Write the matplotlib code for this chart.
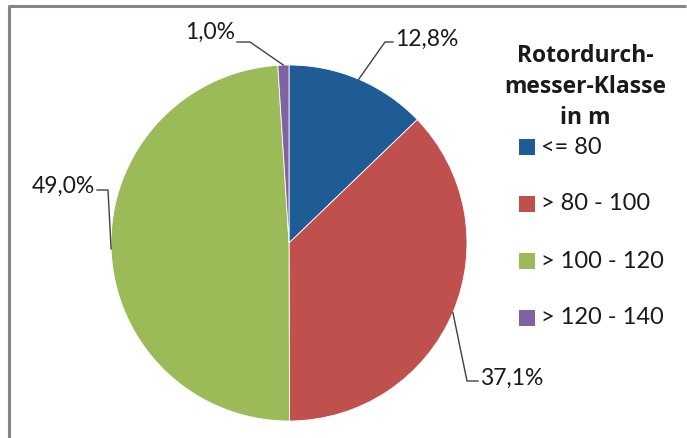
import numpy as np
import matplotlib
matplotlib.use("Agg")
import matplotlib.pyplot as plt
from matplotlib.patches import Rectangle

# Share of turbines per rotor diameter class
categories = ["<= 80", "> 80 - 100", "> 100 - 120", "> 120 - 140"]
shares = [12.8, 37.1, 49.0, 1.0]
colors = ["#1F5C96", "#C0504D", "#9BBB59", "#8064A2"]
legend_title = "Rotordurch-\nmesser-Klasse\nin m"

plt.rcParams["font.family"] = ["Lato", "DejaVu Sans"]

W, H = 687, 438
fig = plt.figure(figsize=(W / 100, H / 100), dpi=100)
ax = fig.add_axes([0, 0, 1, 1])

# pie in pixel-like coordinates (y up)
cx, cy, r = 289, H - 243, 178
wedges, _ = ax.pie(shares, colors=colors, startangle=90, counterclock=False,
                   center=(cx, cy), radius=r,
                   wedgeprops=dict(linewidth=0.6, edgecolor="white"))
ax.set_xlim(0, W)
ax.set_ylim(0, H)
ax.set_aspect("equal")
ax.axis("off")

# outer chart frame (top and left edges visible)
ax.plot([9, 9, 686], [0, H - 6, H - 6], color="#868686", lw=2.2,
        solid_capstyle="butt", clip_on=False)

# data labels with leader lines: (elbow, line end, text pos, ha)
label_layout = [
    ((385, 42), (393, 42), (395, 39), "left"),
    ((467, 381), (478, 381), (480, 378), "left"),
    ((108, 190), (97, 190), (95, 186), "right"),
    ((250, 42), (237, 42), (235, 32), "right"),
]
cum = np.cumsum([0] + shares[:-1])
total = sum(shares)
for val, start, (elbow, end, tpos, ha) in zip(shares, cum, label_layout):
    ang = np.deg2rad(90 - (start + val / 2) / total * 360)
    ax0 = cx + r * np.cos(ang)
    ay0 = cy + r * np.sin(ang)
    ax.plot([ax0, elbow[0], end[0]], [ay0, H - elbow[1], H - end[1]],
            color="#404040", lw=1.0)
    txt = f"{val:.1f}%".replace(".", ",")
    ax.text(tpos[0], H - tpos[1], txt, ha=ha, va="center",
            fontsize=16.5, color="#1a1a1a")

# legend
ax.text(585, H - 87, legend_title, ha="center", va="center",
        fontsize=16.5, fontweight="bold", linespacing=1.38, color="#1a1a1a",
        family=["Open Sans", "DejaVu Sans"])
legend_y = [147, 204, 261, 318]
for lab, col, ly in zip(categories, colors, legend_y):
    ax.add_patch(Rectangle((519, H - ly - 8), 16, 16, facecolor=col,
                           edgecolor="none"))
    ax.text(541, H - ly, lab, ha="left", va="center", fontsize=17,
            color="#1a1a1a")

fig.savefig("out.png", dpi=100, facecolor="white")
